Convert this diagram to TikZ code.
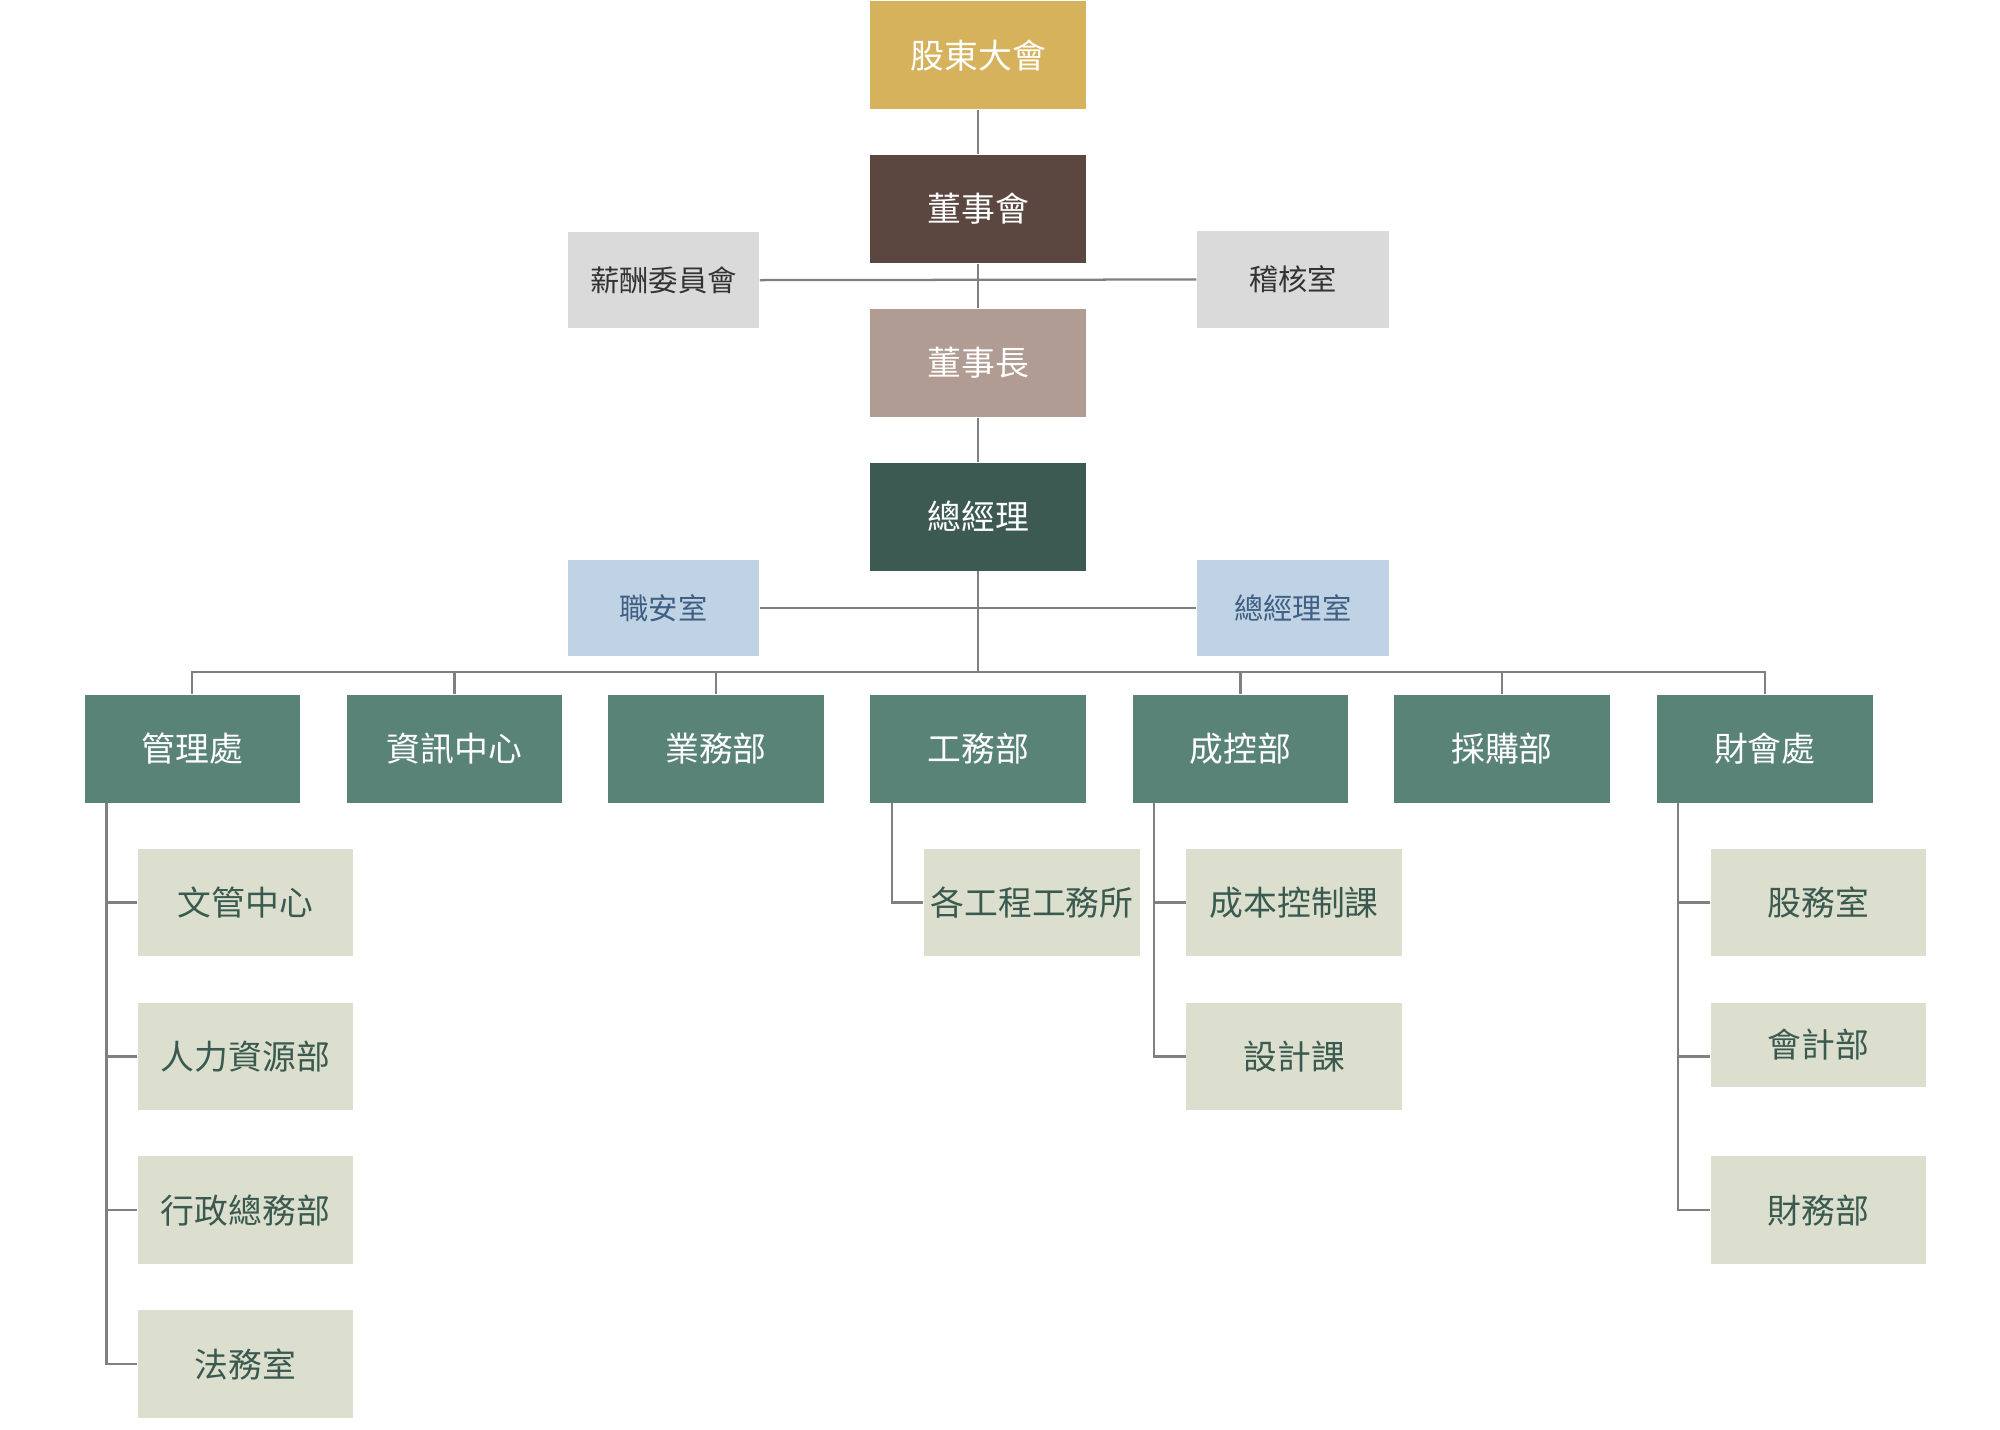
\documentclass[tikz,border=0pt]{standalone}
\usepackage{fontspec}
\newfontfamily\cjk{Noto Sans CJK TC}
\definecolor{cgold}{HTML}{D6B25C}
\definecolor{cbrown}{HTML}{5C4740}
\definecolor{ctaupe}{HTML}{B09C93}
\definecolor{cdark}{HTML}{3C5A52}
\definecolor{cgray}{HTML}{DADADA}
\definecolor{cblue}{HTML}{C0D3E4}
\definecolor{cteal}{HTML}{5A8377}
\definecolor{cpale}{HTML}{DCDFCE}
\definecolor{tpale}{HTML}{3A5A50}
\definecolor{tblue}{HTML}{3F5F85}
\definecolor{tgray}{HTML}{333333}
\definecolor{cline}{HTML}{808080}
\begin{document}
\begin{tikzpicture}[x=0.01cm,y=-0.01cm,
 box/.style={inner sep=0pt,minimum width=1.68cm,minimum height=0.84cm,font=\cjk\fontsize{7.5}{9}\selectfont},
 big/.style={box,text=white},
 side/.style={box,minimum width=1.49cm,minimum height=0.75cm,font=\cjk\fontsize{6.5}{8}\selectfont},
 sub/.style={box,fill=cpale,text=tpale},
 ln/.style={draw=cline,line width=0.5pt}]
\useasboundingbox (0,0) rectangle (1560,1115);
\node[big,fill=cgold] (gd) at (763,43) {股東大會};
\node[big,fill=cbrown] (dsh) at (763,163) {董事會};
\node[big,fill=ctaupe] (dsz) at (763,283) {董事長};
\node[big,fill=cdark] (zjl) at (763,403) {總經理};
\node[side,fill=cgray,text=tgray] (xc) at (517.5,218.5) {薪酬委員會};
\node[side,fill=cgray,text=tgray] (jh) at (1008.5,218) {稽核室};
\node[side,fill=cblue,text=tblue] (za) at (517.5,474.5) {職安室};
\node[side,fill=cblue,text=tblue] (zjs) at (1008.5,474.5) {總經理室};
\foreach \n/\x/\t in {d1/150/管理處,d2/354.5/資訊中心,d3/558.5/業務部,d4/763/工務部,d5/967.5/成控部,d6/1171.5/採購部,d7/1376.5/財會處}
  \node[big,fill=cteal] (\n) at (\x,584) {\t};
\foreach \n/\y/\t in {a1/704/文管中心,a2/824/人力資源部,a3/944/行政總務部,a4/1064/法務室}
  \node[sub] (\n) at (191.5,\y) {\t};
\node[sub] (b1) at (805,704) {各工程工務所};
\node[sub] (c1) at (1009.5,704) {成本控制課};
\node[sub] (c2) at (1009.5,824) {設計課};
\node[sub] (e1) at (1418.5,704) {股務室};
\node[sub,minimum height=0.66cm] (e2) at (1418.5,815) {會計部};
\node[sub] (e3) at (1418.5,944) {財務部};
\draw[ln] (gd) -- (dsh); \draw[ln] (dsh) -- (dsz); \draw[ln] (dsz) -- (zjl);
\draw[ln] (xc.east) -- (jh.west);
\draw[ln] (za.east) -- (zjs.west);
\coordinate (bus) at (763,524);
\draw[ln] (zjl.south) -- (bus);
\draw[ln] (d1.north) |- (bus) -| (d7.north);
\foreach \n in {d2,d3,d5,d6} \draw[ln] (\n.north) -- (\n.north |- bus);
\foreach \n in {a1,a2,a3,a4} \draw[ln] (83,626) |- (\n.west);
\draw[ln] (696,626) |- (b1.west);
\foreach \n in {c1,c2} \draw[ln] (900,626) |- (\n.west);
\draw[ln] (1309,626) |- (e1.west);
\draw[ln] (1309,626) |- (1334,824);
\draw[ln] (1309,626) |- (e3.west);
\end{tikzpicture}
\end{document}
